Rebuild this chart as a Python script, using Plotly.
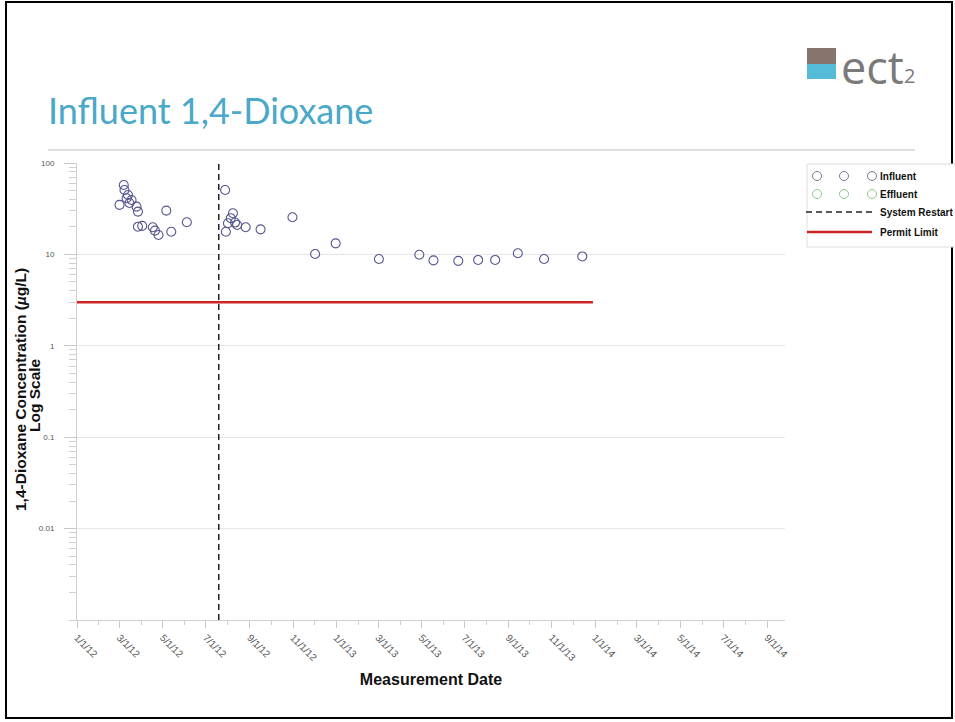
import plotly.graph_objects as go

# ---------------- data ----------------
influent_dates = [
    "2012-03-07", "2012-03-08", "2012-03-13", "2012-03-11", "2012-03-18", "2012-03-01",
    "2012-03-15", "2012-03-25", "2012-03-27", "2012-03-27", "2012-04-02", "2012-04-17",
    "2012-04-20", "2012-04-25", "2012-05-06", "2012-05-13", "2012-06-04",
    "2012-07-28", "2012-08-08", "2012-08-05", "2012-08-01", "2012-08-11", "2012-07-29",
    "2012-08-14", "2012-08-26", "2012-09-16", "2012-10-31", "2012-12-02", "2012-12-31",
    "2013-03-02", "2013-04-28", "2013-05-18", "2013-06-22", "2013-07-20", "2013-08-13",
    "2013-09-14", "2013-10-21", "2013-12-14",
]
influent_values = [
    57.5, 50.7, 44.7, 41.1, 39.4, 34.8,
    36.5, 33.3, 29.4, 20.1, 20.5, 19.8,
    18.2, 16.3, 30.1, 17.7, 22.5,
    50.7, 28.2, 24.9, 21.9, 22.3, 17.7,
    21.0, 19.8, 18.8, 25.5, 10.1, 13.2,
    8.9, 9.9, 8.6, 8.5, 8.7, 8.7,
    10.3, 8.9, 9.5,
]
effluent_dates = []
effluent_values = []
restart_date = "2012-07-19"
permit_limit = 3.0
permit_dates = ["2012-01-01", "2013-12-29"]
x_tick_vals = ["2012-01-01", "2012-03-01", "2012-05-01", "2012-07-01", "2012-09-01", "2012-11-01",
               "2013-01-01", "2013-03-01", "2013-05-01", "2013-07-01", "2013-09-01", "2013-11-01",
               "2014-01-01", "2014-03-01", "2014-05-01", "2014-07-01", "2014-09-01"]
x_tick_text = ["1/1/12", "3/1/12", "5/1/12", "7/1/12", "9/1/12", "11/1/12",
               "1/1/13", "3/1/13", "5/1/13", "7/1/13", "9/1/13", "11/1/13",
               "1/1/14", "3/1/14", "5/1/14", "7/1/14", "9/1/14"]
y_tick_vals = [0.01, 0.1, 1, 10, 100]
y_tick_text = ["0.01", "0.1", "1", "10", "100"]

# ---------------- layout geometry ----------------
W, H = 955, 722
L, R, T, B = 77, 785, 163, 620


def px(x):
    return (x - L) / (R - L)


def py(y):
    return (B - y) / (B - T)


fig = go.Figure()

fig.add_trace(go.Scatter(
    x=influent_dates, y=influent_values, mode="markers", name="Influent",
    marker=dict(symbol="circle-open", size=9, color="#55558f", line=dict(width=1.1)),
    showlegend=False,
))
fig.add_trace(go.Scatter(
    x=effluent_dates, y=effluent_values, mode="markers", name="Effluent",
    marker=dict(symbol="circle-open", size=9, color="#8fc98f", line=dict(width=1.1)),
    showlegend=False,
))
fig.add_trace(go.Scatter(
    x=[restart_date, restart_date], y=[0.001, 100], mode="lines", name="System Restart",
    line=dict(color="#222222", width=1.5, dash="6px,4px"), showlegend=False,
))
fig.add_trace(go.Scatter(
    x=permit_dates, y=[permit_limit, permit_limit], mode="lines", name="Permit Limit",
    line=dict(color="#cc2424", width=2.6), showlegend=False,
))

fig.update_xaxes(
    type="date", range=["2012-01-01", "2014-09-26"],
    tickvals=x_tick_vals, ticktext=x_tick_text, tickangle=45,
    tickfont=dict(family="Liberation Sans, Arial", size=10, color="#555555"),
    ticks="outside", ticklen=7, tickcolor="#c8c8c8",
    minor=dict(ticks="outside", ticklen=4, tickcolor="#d0d0d0", dtick="M1"),
    showgrid=False, showline=True, linecolor="#d0d0d0", linewidth=1, zeroline=False,
    title=dict(text="<b>Measurement Date</b>", standoff=11,
               font=dict(family="Liberation Sans, Arial", size=16, color="#111111")),
)
fig.update_yaxes(
    type="log", range=[-3, 2],
    tickvals=y_tick_vals, ticktext=y_tick_text,
    tickfont=dict(family="Liberation Sans, Arial", size=8, color="#555555"),
    ticks="outside", ticklen=12, tickcolor="#c8c8c8", ticklabelstandoff=8,
    minor=dict(ticks="outside", ticklen=7, tickcolor="#d0d0d0", dtick="D1", showgrid=False),
    showgrid=True, gridcolor="#e6e6e6", gridwidth=1,
    showline=True, linecolor="#d0d0d0", linewidth=1, zeroline=False,
)

shapes = []
annotations = []

# y-axis title (two lines, rotated)
annotations.append(dict(text="<b>1,4-Dioxane Concentration (<i>µ</i>g/L)</b>", xref="paper", yref="paper",
                        x=px(20), y=py(390), xanchor="center", yanchor="middle", textangle=-90,
                        showarrow=False, font=dict(family="Liberation Sans, Arial", size=15.5, color="#111111")))
annotations.append(dict(text="<b>Log Scale</b>", xref="paper", yref="paper",
                        x=px(34), y=py(395), xanchor="center", yanchor="middle", textangle=-90,
                        showarrow=False, font=dict(family="Liberation Sans, Arial", size=15.5, color="#111111")))

# slide frame
shapes.append(dict(type="rect", xref="paper", yref="paper",
                   x0=px(6), x1=px(952), y0=py(2), y1=py(718),
                   line=dict(color="#000000", width=2), fillcolor="rgba(0,0,0,0)", layer="below"))
# title rule
shapes.append(dict(type="line", xref="paper", yref="paper",
                   x0=px(48), x1=px(915), y0=py(150), y1=py(150),
                   line=dict(color="#c0c0c0", width=1)))
annotations.append(dict(text="Influent 1,4-Dioxane", xref="paper", yref="paper",
                        x=px(46), y=py(110), xanchor="left", yanchor="middle", showarrow=False,
                        font=dict(family="Lato, Open Sans", size=36, color="#4aa8c8")))
# logo
shapes.append(dict(type="rect", xref="paper", yref="paper",
                   x0=px(807), x1=px(836), y0=py(48), y1=py(64),
                   line=dict(width=0), fillcolor="#85756d"))
shapes.append(dict(type="rect", xref="paper", yref="paper",
                   x0=px(807), x1=px(836), y0=py(64), y1=py(79),
                   line=dict(width=0), fillcolor="#55bcd8"))
annotations.append(dict(text="ect", xref="paper", yref="paper",
                        x=px(839), y=py(66), xanchor="left", yanchor="middle", showarrow=False,
                        font=dict(family="Open Sans, Lato", size=45, color="#7a7a7a")))
annotations.append(dict(text="2", xref="paper", yref="paper",
                        x=px(902), y=py(75), xanchor="left", yanchor="middle", showarrow=False,
                        font=dict(family="Open Sans, Lato", size=20, color="#7a7a7a")))

# custom legend
shapes.append(dict(type="rect", xref="paper", yref="paper",
                   x0=px(807), x1=px(990), y0=py(164), y1=py(247),
                   line=dict(color="#dddddd", width=1), fillcolor="#ffffff"))
legend_font = dict(family="Liberation Sans, Arial", size=10, color="#111111")
for row_y, col, label in [(176, "#777790", "Influent"), (194, "#8fc98f", "Effluent")]:
    for cx in (817, 844, 872):
        shapes.append(dict(type="circle", xref="paper", yref="paper",
                           x0=px(cx - 4.5), x1=px(cx + 4.5), y0=py(row_y - 4.5), y1=py(row_y + 4.5),
                           line=dict(color=col, width=1)))
    annotations.append(dict(text="<b>" + label + "</b>", xref="paper", yref="paper",
                            x=px(878), y=py(row_y), xanchor="left", yanchor="middle",
                            showarrow=False, font=legend_font))
shapes.append(dict(type="line", xref="paper", yref="paper",
                   x0=px(806), x1=px(872), y0=py(212), y1=py(212),
                   line=dict(color="#222222", width=1.3, dash="6px,4px")))
annotations.append(dict(text="<b>System Restart</b>", xref="paper", yref="paper",
                        x=px(878), y=py(212), xanchor="left", yanchor="middle",
                        showarrow=False, font=legend_font))
shapes.append(dict(type="line", xref="paper", yref="paper",
                   x0=px(807), x1=px(872), y0=py(232), y1=py(232),
                   line=dict(color="#cc2424", width=2.6)))
annotations.append(dict(text="<b>Permit Limit</b>", xref="paper", yref="paper",
                        x=px(878), y=py(232), xanchor="left", yanchor="middle",
                        showarrow=False, font=legend_font))

fig.update_layout(
    width=W, height=H, autosize=False,
    margin=dict(l=L, r=W - R, t=T, b=H - B, pad=0),
    paper_bgcolor="#ffffff", plot_bgcolor="#ffffff",
    shapes=shapes, annotations=annotations, showlegend=False,
)

fig.write_html("out.html", config={"displayModeBar": False},
               post_script="document.body.style.margin='0';")
